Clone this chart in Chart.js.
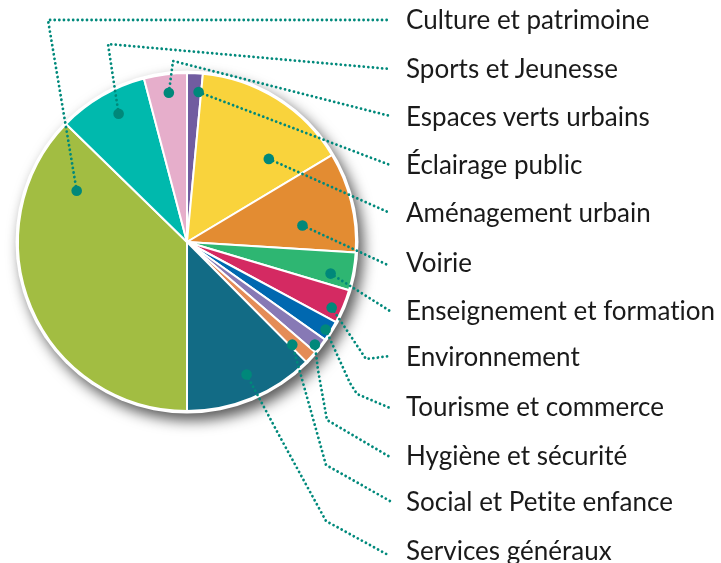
<!DOCTYPE html>
<html>
<head>
<meta charset="utf-8">
<script src="https://cdn.jsdelivr.net/npm/chart.js@4"></script>
<style>
  html, body { margin: 0; padding: 0; background: #ffffff; }
  #wrap { position: relative; width: 721px; height: 563px; overflow: hidden; }
  #c { position: absolute; left: 0; top: 0; }
  .lbl { position: absolute; left: 406px; font-family: Lato, "Open Sans", sans-serif; font-size: 26px;
         color: #1a1a1a; white-space: nowrap; line-height: 30px; font-variant-ligatures: none; }
</style>
</head>
<body>
<div id="wrap">
  <canvas id="c" width="721" height="563"></canvas>
</div>
<script>
// ---- data (label order, top to bottom; pie runs clockwise from 6 o'clock) ----
const categories = [
  "Culture et patrimoine",
  "Sports et Jeunesse",
  "Espaces verts urbains",
  "Éclairage public",
  "Aménagement urbain",
  "Voirie",
  "Enseignement et formation",
  "Environnement",
  "Tourisme et commerce",
  "Hygiène et sécurité",
  "Social et Petite enfance",
  "Services généraux"
];
const shares = [37.3, 8.6, 4.1, 1.5, 14.9, 9.6, 3.6, 3.25, 1.95, 1.5, 1.25, 12.45];

// ---- styling / layout ----
const colors = ["#a2bd42", "#00b9ad", "#e6aecb", "#715ca0", "#f9d33c", "#e38c32",
                "#2eb672", "#d42a62", "#0068b0", "#8779b5", "#e48c57", "#126b85"];
// dot anchor inside each slice: fraction along the slice angle, fraction of radius
const dotAnchor = [[0.856,0.72],[0.57,0.86],[0.53,0.89],[0.82,0.89],[0.73,0.69],[0.66,0.69],
                   [0.68,0.87],[0.67,0.94],[0.57,0.97],[0.64,0.97],[0.8,0.87],[0.46,0.86]];
// intermediate bend points of the leader lines
const bends = [[[48,20]],[[108,44]],[[173,61]],[],[],[],[],[[366,359]],[[350,383],[357,394]],
               [[318,370],[327,420]],[[305,390],[326,465]],[[280,437],[326,521]]];
const labelY = [20, 69, 117, 165, 213, 263, 311, 357, 407, 456, 502, 551];
const lineEndX = 390;
const lineEndDy = [0, 0, -1, 0, 0, 3, 0, -1, 1, 1, -1, 5];

const wrap = document.getElementById('wrap');
categories.forEach((t, i) => {
  const d = document.createElement('div');
  d.className = 'lbl';
  d.textContent = t;
  d.style.top = (labelY[i] - 16) + 'px';
  wrap.appendChild(d);
});

const shadowPlugin = {
  id: 'shadowDisc',
  beforeDatasetsDraw(chart) {
    const arc = chart.getDatasetMeta(0).data[0];
    if (!arc) return;
    const ctx = chart.ctx;
    ctx.save();
    ctx.shadowColor = 'rgba(0,0,0,0.65)';
    ctx.shadowBlur = 14;
    ctx.shadowOffsetX = 5;
    ctx.shadowOffsetY = 7;
    ctx.fillStyle = '#ffffff';
    ctx.beginPath();
    ctx.arc(arc.x, arc.y, arc.outerRadius + 2.5, 0, Math.PI * 2);
    ctx.fill();
    ctx.restore();
  }
};

const leaderPlugin = {
  id: 'leaders',
  afterDatasetsDraw(chart) {
    const ctx = chart.ctx;
    const meta = chart.getDatasetMeta(0);
    ctx.save();
    meta.data.forEach((arc, i) => {
      const [fa, fr] = dotAnchor[i];
      const a = arc.startAngle + fa * (arc.endAngle - arc.startAngle);
      const r = fr * arc.outerRadius;
      const px = arc.x + r * Math.cos(a);
      const py = arc.y + r * Math.sin(a);
      ctx.strokeStyle = '#00897b';
      ctx.lineWidth = 2.8;
      ctx.lineCap = 'round';
      ctx.setLineDash([0.01, 4.6]);
      ctx.beginPath();
      ctx.moveTo(px, py);
      bends[i].forEach(p => ctx.lineTo(p[0], p[1]));
      ctx.lineTo(lineEndX, labelY[i] + lineEndDy[i]);
      ctx.stroke();
      ctx.setLineDash([]);
      ctx.fillStyle = '#00887a';
      ctx.beginPath();
      ctx.arc(px, py, 5.3, 0, Math.PI * 2);
      ctx.fill();
    });
    ctx.restore();
  }
};

new Chart(document.getElementById('c'), {
  type: 'pie',
  data: {
    labels: categories,
    datasets: [{
      data: shares,
      backgroundColor: colors,
      borderColor: '#ffffff',
      borderWidth: 2
    }]
  },
  options: {
    responsive: false,
    animation: false,
    rotation: 180,
    layout: { padding: { left: 17, top: 72, right: 364, bottom: 151 } },
    plugins: { legend: { display: false }, tooltip: { enabled: false } }
  },
  plugins: [shadowPlugin, leaderPlugin]
});
</script>
</body>
</html>
